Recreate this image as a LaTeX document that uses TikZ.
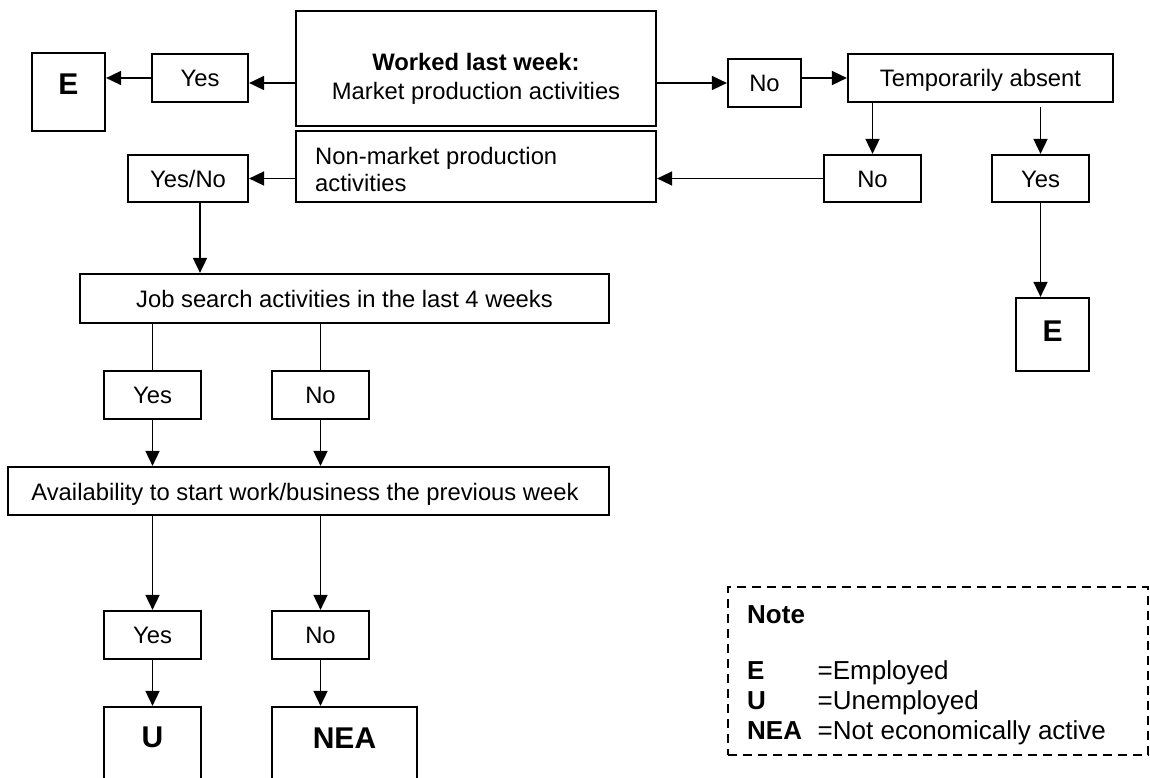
\documentclass[tikz,border=0pt]{standalone}
\usepackage{fontspec}
\setmainfont{Liberation Sans}
\usetikzlibrary{arrows.meta}
\newcommand\fnorm{\fontsize{23.8pt}{28pt}\selectfont}
\newcommand\fbig{\fontsize{30pt}{34pt}\selectfont\bfseries}
\newcommand\fleg{\fontsize{26pt}{30pt}\selectfont}
\begin{document}
\begin{tikzpicture}[x=1pt,y=-1pt,
  bx/.style={draw, line width=2.2pt, inner sep=0pt, text height=17pt, text depth=0pt, font=\fnorm},
  txt/.style={inner sep=0pt, font=\fnorm},
  big/.style={inner sep=0pt, font=\fbig, anchor=base},
  leg/.style={inner sep=0pt, font=\fleg, anchor=base west},
  legb/.style={inner sep=0pt, font=\fleg\bfseries, anchor=base west},
  arr/.style={line width=1.7pt, -{Triangle[length=15pt,width=14pt]}},
  ln/.style={line width=1.7pt},
  notebox/.style={draw, line width=1.6pt, dash pattern=on 9pt off 6pt, inner sep=0pt}
]
\useasboundingbox (0,0) rectangle (1150,778);
\clip (0,0) rectangle (1150,778);

% boxes
\node[bx, minimum width=73pt, minimum height=78pt] (E1) at (68.5,92) {};
\node[bx, minimum width=96pt, minimum height=48pt] (Yes1) at (200,78) {Yes};
\node[bx, minimum width=360pt, minimum height=115pt] (Main) at (476,68.5) {};
\node[bx, minimum width=73pt, minimum height=48pt] (No1) at (764.5,83) {No};
\node[bx, minimum width=265pt, minimum height=48pt] (Temp) at (980.5,78) {Temporarily absent};
\node[bx, minimum width=360pt, minimum height=71pt] (NonMkt) at (476,166.5) {};
\node[bx, minimum width=120pt, minimum height=47pt] (YesNo) at (188,178.5) {Yes/No};
\node[bx, minimum width=97pt, minimum height=47pt] (No2) at (872.5,178.5) {No};
\node[bx, minimum width=97pt, minimum height=47pt] (Yes2) at (1040.5,178.5) {Yes};
\node[bx, minimum width=73pt, minimum height=73pt] (E2) at (1052.5,334.5) {};
\node[bx, minimum width=529pt, minimum height=49pt] (Job) at (344.5,298.5) {Job search activities in the last 4 weeks};
\node[bx, minimum width=97pt, minimum height=48pt] (JYes) at (152.5,395) {Yes};
\node[bx, minimum width=97pt, minimum height=48pt] (JNo) at (320.5,395) {No};
\node[bx, minimum width=601pt, minimum height=48pt] (Avail) at (308.5,491) {};
\node[bx, minimum width=97pt, minimum height=48pt] (AYes) at (152.5,635) {Yes};
\node[bx, minimum width=97pt, minimum height=48pt] (ANo) at (320.5,635) {No};
\node[bx, minimum width=97pt, minimum height=100pt] (U) at (152.5,757) {};
\node[bx, minimum width=145pt, minimum height=100pt] (NEA) at (344.5,757) {};

% texts inside boxes
\node[txt, anchor=base, font=\fnorm\bfseries] (MainT1) at (476,71) {Worked last week:};
\node[txt, anchor=base] (MainT2) at (476,100) {Market production activities};
\node[txt, anchor=base west] (NonT1) at (315,165) {Non-market production};
\node[txt, anchor=base west] (NonT2) at (315,192) {activities};
\node[txt, anchor=base] (AvailT) at (305,500) {Availability to start work/business the previous week};
\node[big] (E1t) at (68.5,95) {E};
\node[big] (E2t) at (1052.5,341) {E};
\node[big] (Ut) at (152.5,747) {U};
\node[big] (NEAt) at (344.5,748) {NEA};

% connectors
\draw[arr] (Main.west |- No1.west) -- (Yes1.east |- No1.west);
\draw[arr] (Yes1.west) -- (E1.east |- Yes1.west);
\draw[arr] (Main.east |- No1.west) -- (No1.west);
\draw[arr] (No1.east |- Temp.west) -- (Temp.west);
\draw[arr] (Temp.south -| No2.north) -- (No2.north);
\draw[arr, shorten <=4pt] (Temp.south -| Yes2.north) -- (Yes2.north);
\draw[arr] (No2.west) -- (NonMkt.east |- No2.west);
\draw[arr] (NonMkt.west |- YesNo.east) -- (YesNo.east);
\coordinate (YNb) at ([xshift=12pt]YesNo.south);
\draw[arr] (YNb) -- (YNb |- Job.north);
\draw[arr] (Yes2.south) -- (Yes2.south |- E2.north);
\draw[ln] (Job.south -| JYes.north) -- (JYes.north);
\draw[ln] (Job.south -| JNo.north) -- (JNo.north);
\draw[arr] (JYes.south) -- (JYes.south |- Avail.north);
\draw[arr] (JNo.south) -- (JNo.south |- Avail.north);
\draw[arr] (Avail.south -| AYes.north) -- (AYes.north);
\draw[arr] (Avail.south -| ANo.north) -- (ANo.north);
\draw[arr] (AYes.south) -- (AYes.south |- U.north);
\draw[arr] (ANo.south) -- (ANo.south |- NEA.north);

% note
\node[notebox, minimum width=420pt, minimum height=168pt] (Note) at (938,671) {};
\node[legb] (NoteT) at (747,623) {Note};
\node[legb] (LE) at (747,679) {E};
\node[leg] (LEd) at (817.5,679) {=Employed};
\node[legb] (LU) at (747,709) {U};
\node[leg] (LUd) at (817.5,709) {=Unemployed};
\node[legb] (LN) at (747,739) {NEA};
\node[leg] (LNd) at (817.5,739) {=Not economically active};
\end{tikzpicture}
\end{document}
